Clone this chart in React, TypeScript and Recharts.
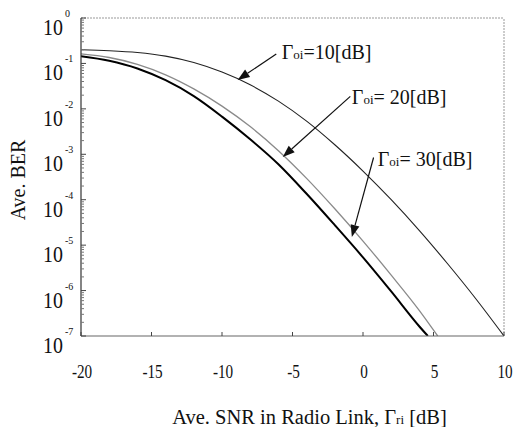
import React from 'react';
import {
  LineChart,
  Line,
  XAxis,
  YAxis,
  ReferenceLine,
  ReferenceDot,
} from 'recharts';

// Γoi = 10 dB curve
const snr10 = [-20, -18, -16, -14, -12, -10, -8, -6, -4, -2, 0, 2, 4, 6, 8, 10];
const ber10 = [0.1995, 0.1905, 0.1738, 0.1445, 0.1047, 0.0646, 0.0339, 0.0148, 5.37e-3, 1.62e-3, 4.27e-4, 1.0e-4, 2.09e-5, 3.89e-6, 6.61e-7, 1.0e-7];

// Γoi = 20 dB curve
const snr20 = [-20, -18, -16, -14, -12, -10, -8, -6, -4, -2, 0, 2, 4, 5.3];
const ber20 = [0.162, 0.135, 0.0955, 0.0562, 0.0275, 0.01148, 4.07e-3, 1.2e-3, 2.95e-4, 6.31e-5, 1.23e-5, 2.19e-6, 3.63e-7, 1.0e-7];

// Γoi = 30 dB curve
const snr30 = [-20, -18, -16, -14, -12, -10, -8, -6, -4, -2, 0, 2, 4, 4.6];
const ber30 = [0.1445, 0.1148, 0.0776, 0.0427, 0.0191, 6.76e-3, 2.14e-3, 6.03e-4, 1.35e-4, 2.75e-5, 5.37e-6, 9.55e-7, 1.62e-7, 1.0e-7];

const xTicks = [-20, -15, -10, -5, 0, 5, 10];
const yMajor = [1, 1e-1, 1e-2, 1e-3, 1e-4, 1e-5, 1e-6, 1e-7];
const yExponents = ['0', '-1', '-2', '-3', '-4', '-5', '-6', '-7'];

// annotation labels: text baseline start, and arrow (from -> tip)
const noteValues = ['10[dB]', ' 20[dB]', ' 30[dB]'];
const noteTextX = [-5.76, -0.79, 1.05];
const noteTextY = [0.125, 0.0128, 5.52e-4];
const arrowFromX = [-6.15, -0.9, 0.75];
const arrowFromY = [0.162, 0.0188, 8.5e-4];
const arrowTipX = [-8.89, -5.69, -0.79];
const arrowTipY = [0.0432, 8.7e-4, 1.51e-5];

const toRows = (xs: number[], ys: number[]) => xs.map((x, i) => ({ x, y: ys[i] }));

const minorTicks: number[] = [];
yMajor.slice(1).forEach((m) => {
  for (let k = 2; k <= 9; k++) minorTicks.push(m * k);
});
const yTicks = [...yMajor, ...minorTicks].sort((a, b) => a - b);

const FONT = '"Liberation Serif", "Times New Roman", "DejaVu Serif", serif';
const serif = { fontFamily: FONT };

const YTick = (props: any) => {
  const { x, y, payload } = props;
  const v = payload.value;
  const idx = yMajor.findIndex((m) => Math.abs(m - v) / m < 1e-6);
  if (idx < 0) {
    return <line x1={x} y1={y} x2={x + 3} y2={y} stroke="#777" strokeWidth={1} />;
  }
  return (
    <g transform={`translate(${x},${y})`}>
      <line x1={0} y1={0} x2={5} y2={0} stroke="#444" strokeWidth={1} />
      <text transform="translate(-18,17) scale(0.83,1)" textAnchor="end" style={serif} fontSize={24} fill="#111">
        10
      </text>
      <text x={-16} y={-1} textAnchor="start" style={serif} fontSize={10} fill="#111">
        {yExponents[idx]}
      </text>
    </g>
  );
};

const XTick = (props: any) => {
  const { x, y, payload } = props;
  return (
    <g transform={`translate(${x},${y})`}>
      <line x1={0} y1={0} x2={0} y2={-4} stroke="#444" strokeWidth={1} />
      <text transform="translate(1,42) scale(0.8,1)" textAnchor="middle" style={serif} fontSize={19} fill="#111">
        {payload.value}
      </text>
    </g>
  );
};

const Arrow = (props: any) => {
  const { x1, y1, x2, y2 } = props;
  const dx = x2 - x1;
  const dy = y2 - y1;
  const len = Math.sqrt(dx * dx + dy * dy) || 1;
  const ux = dx / len;
  const uy = dy / len;
  const hl = 12;
  const hw = 4.5;
  const bx = x2 - ux * hl;
  const by = y2 - uy * hl;
  const pts = `${x2},${y2} ${bx - uy * hw},${by + ux * hw} ${bx + uy * hw},${by - ux * hw}`;
  return (
    <g>
      <line x1={x1} y1={y1} x2={bx} y2={by} stroke="#111" strokeWidth={1.2} />
      <polygon points={pts} fill="#111" />
    </g>
  );
};

const noteShape = (text: string) => (props: any) => {
  const { cx, cy } = props;
  return (
    <text x={cx} y={cy} style={serif} fontSize={20} fill="#111">
      Γ
      <tspan fontSize={13}>oi</tspan>
      <tspan fontSize={20}>={text}</tspan>
    </text>
  );
};

const YTitle = (props: any) => {
  const { viewBox } = props;
  const cx = viewBox.x + 25;
  const cy = viewBox.y + 162;
  return (
    <text x={cx} y={cy} transform={`rotate(-90 ${cx} ${cy})`} textAnchor="middle" style={serif} fontSize={20} fill="#111">
      Ave. BER
    </text>
  );
};

const XTitle = (props: any) => {
  const { viewBox } = props;
  const cx = viewBox.x + viewBox.width / 2 + 17;
  const cy = viewBox.y + 88;
  return (
    <text x={cx} y={cy} textAnchor="middle" style={serif} fontSize={20.5} fill="#111">
      Ave. SNR in Radio Link, Γ<tspan fontSize={13}>ri</tspan> [dB]
    </text>
  );
};

export default function App() {
  return (
    <div style={{ position: 'absolute', left: 0, top: 0, width: 513, height: 427, background: '#fff' }}>
      <LineChart width={513} height={427} margin={{ top: 18, right: 9, bottom: 31, left: 0 }}>
        <XAxis
          type="number"
          dataKey="x"
          domain={[-20, 10]}
          ticks={xTicks}
          interval={0}
          allowDataOverflow
          height={60}
          tickSize={0}
          tickMargin={0}
          tickLine={false}
          tick={<XTick />}
          axisLine={{ stroke: '#666', strokeWidth: 1.2 }}
          label={{ content: <XTitle /> }}
        />
        <YAxis
          type="number"
          scale="log"
          domain={[1e-7, 1]}
          ticks={yTicks}
          interval={0}
          allowDataOverflow
          width={81}
          tickSize={0}
          tickMargin={0}
          tickLine={false}
          tick={<YTick />}
          axisLine={{ stroke: '#333', strokeWidth: 1.2 }}
          label={{ content: <YTitle /> }}
        />
        <ReferenceLine y={1} stroke="#999" strokeWidth={1} strokeDasharray="2 1" />
        <ReferenceLine x={10} stroke="#999" strokeWidth={1} strokeDasharray="2 1" />
        <Line
          data={toRows(snr10, ber10)}
          dataKey="y"
          type="monotone"
          stroke="#222"
          strokeWidth={1.1}
          dot={false}
          isAnimationActive={false}
        />
        <Line
          data={toRows(snr20, ber20)}
          dataKey="y"
          type="monotone"
          stroke="#8a8a8a"
          strokeWidth={1.3}
          dot={false}
          isAnimationActive={false}
        />
        <Line
          data={toRows(snr30, ber30)}
          dataKey="y"
          type="monotone"
          stroke="#000"
          strokeWidth={2}
          dot={false}
          isAnimationActive={false}
        />
        {noteValues.map((t, i) => (
          <ReferenceLine
            key={`a${i}`}
            segment={[
              { x: arrowFromX[i], y: arrowFromY[i] },
              { x: arrowTipX[i], y: arrowTipY[i] },
            ]}
            shape={<Arrow />}
          />
        ))}
        {noteValues.map((t, i) => (
          <ReferenceDot
            key={`n${i}`}
            x={noteTextX[i]}
            y={noteTextY[i]}
            r={0}
            shape={noteShape(t)}
          />
        ))}
      </LineChart>
    </div>
  );
}
